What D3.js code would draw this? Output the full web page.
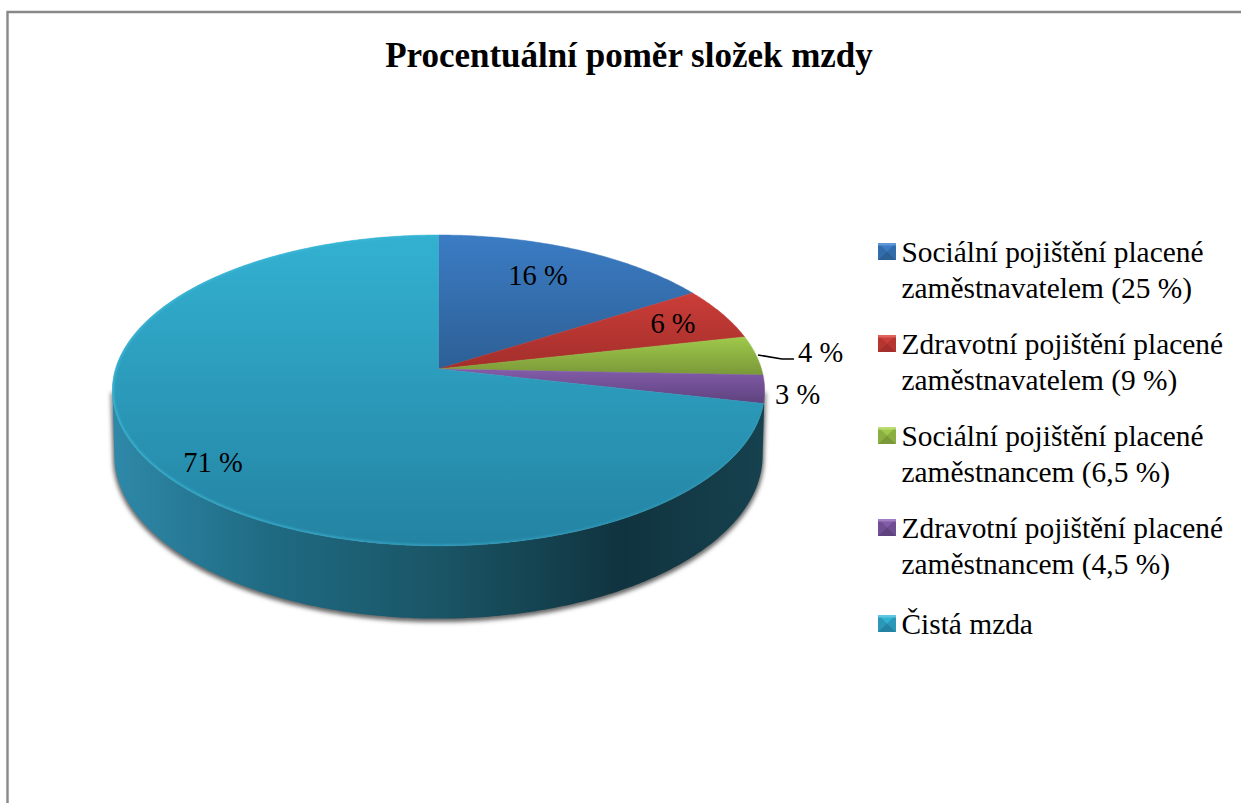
<!DOCTYPE html>
<html>
<head>
<meta charset="utf-8">
<script src="https://cdnjs.cloudflare.com/ajax/libs/d3/7.8.5/d3.min.js"></script>
<style>
  html, body { margin: 0; padding: 0; background: #fff; overflow: hidden; }
  text { font-family: "Liberation Serif", serif; fill: #000; }
</style>
</head>
<body>
<div id="chart"></div>
<script>
// data
var title = "Procentuální poměr složek mzdy";
var categories = [
  ["Sociální pojištění placené", "zaměstnavatelem (25 %)"],
  ["Zdravotní pojištění placené", "zaměstnavatelem (9 %)"],
  ["Sociální pojištění placené", "zaměstnancem (6,5 %)"],
  ["Zdravotní pojištění placené", "zaměstnancem (4,5 %)"],
  ["Čistá mzda"]
];
// slice sizes as measured on the rim, labels show them rounded
var values = [16, 5.5, 4.1, 2.9, 71.4];

// colours: [top of slice, bottom of slice, swatch light]
var palette = [
  ["#3b7cc4", "#2d5f95", "#5f97d6"],
  ["#cb3d38", "#a32e2b", "#e0625d"],
  ["#9fc94b", "#7a9838", "#bcdc72"],
  ["#835ca9", "#5e427e", "#a07fc2"],
  ["#33b1d1", "#2483a3", "#5fc6de"]
];

var width = 1241, height = 803;

// perspective of the pie: disc coords -> screen
var cx = 438.5, cy = 369, persp = 0.138;
function projector(rx, ry, y0) {
  return function (a) {
    var X = Math.sin(a), Y = Math.cos(a), w = 1 + persp * Y;
    return [cx + rx * X / w, y0 - ry * Y / w];
  };
}
var topRim = projector(323, 152.5, cy);
var bottomRim = projector(321, 160, 433);

function sample(a0, a1) {
  var n = Math.max(2, Math.ceil(Math.abs(a1 - a0) / 0.01));
  return d3.range(n + 1).map(function (i) { return a0 + (a1 - a0) * i / n; });
}
var line = d3.line();

var svg = d3.select("#chart").append("svg")
  .attr("width", width)
  .attr("height", height)
  .style("display", "block");
var defs = svg.append("defs");

// page frame
svg.append("path")
  .attr("d", line([[width, 12], [7.5, 12], [7.5, height]]))
  .attr("fill", "none")
  .attr("stroke", "#888")
  .attr("stroke-width", 2.4);

svg.append("text")
  .attr("x", 629)
  .attr("y", 67)
  .attr("text-anchor", "middle")
  .attr("font-weight", "bold")
  .attr("font-size", "35px")
  .text(title);

var arcs = d3.pie().sort(null).startAngle(0).endAngle(2 * Math.PI)(values);

// gradients
var sideGrad = defs.append("linearGradient")
  .attr("id", "side")
  .attr("gradientUnits", "userSpaceOnUse")
  .attr("x1", 115).attr("x2", 763).attr("y1", 0).attr("y2", 0);
[[0, "#2e88a8"], [0.24, "#1f6a82"], [0.5, "#1a5566"], [0.78, "#10343f"], [1, "#16414e"]].forEach(function (s) {
  sideGrad.append("stop").attr("offset", s[0]).attr("stop-color", s[1]);
});

var rimGrad = defs.append("linearGradient")
  .attr("id", "rim")
  .attr("gradientUnits", "userSpaceOnUse")
  .attr("x1", 115).attr("x2", 763).attr("y1", 0).attr("y2", 0);
rimGrad.append("stop").attr("offset", 0).attr("stop-color", "#3dbad9").attr("stop-opacity", 0.85);
rimGrad.append("stop").attr("offset", 0.55).attr("stop-color", "#3dbad9").attr("stop-opacity", 0.45);
rimGrad.append("stop").attr("offset", 1).attr("stop-color", "#3dbad9").attr("stop-opacity", 0.1);

arcs.forEach(function (d, i) {
  var pts = sample(d.startAngle, d.endAngle).map(topRim).concat([[cx, cy]]);
  var ext = d3.extent(pts, function (p) { return p[1]; });
  var g = defs.append("linearGradient")
    .attr("id", "slice" + i)
    .attr("gradientUnits", "userSpaceOnUse")
    .attr("x1", 0).attr("x2", 0).attr("y1", ext[0]).attr("y2", ext[1]);
  g.append("stop").attr("offset", 0).attr("stop-color", palette[i][0]);
  g.append("stop").attr("offset", 1).attr("stop-color", palette[i][1]);
  d.pts = pts;
});

defs.append("filter").attr("id", "soft")
  .attr("x", "-5%").attr("y", "-5%").attr("width", "110%").attr("height", "110%")
  .append("feGaussianBlur").attr("stdDeviation", 2);
defs.append("filter").attr("id", "softer")
  .attr("x", "-5%").attr("y", "-5%").attr("width", "110%").attr("height", "110%")
  .append("feGaussianBlur").attr("stdDeviation", 1);
defs.append("clipPath").attr("id", "disc")
  .append("path")
  .attr("d", line(sample(0, 2 * Math.PI).map(topRim)) + "Z");

// wall of the pie, front half only
var a0 = 98 * Math.PI / 180, a1 = 262 * Math.PI / 180;
var wall = sample(a0, a1).map(topRim)
  .concat(sample(a1, a0).map(bottomRim));
var wallPath = line(wall) + "Z";

svg.append("path")
  .attr("d", wallPath)
  .attr("fill", "#666")
  .attr("stroke", "#666")
  .attr("stroke-width", 3)
  .attr("transform", "translate(0,2)")
  .attr("filter", "url(#soft)");
svg.append("path")
  .attr("d", wallPath)
  .attr("fill", "url(#side)");

// top face
svg.selectAll("path.slice")
  .data(arcs)
  .enter().append("path")
  .attr("class", "slice")
  .attr("d", function (d) { return line(d.pts) + "Z"; })
  .attr("fill", function (d, i) { return "url(#slice" + i + ")"; })
  .attr("stroke", function (d, i) { return "url(#slice" + i + ")"; })
  .attr("stroke-width", 0.5);

// bevel highlight round the rim of the big slice
svg.append("g")
  .attr("clip-path", "url(#disc)")
  .append("path")
  .attr("d", line(sample(arcs[4].startAngle + 0.1, 2 * Math.PI).map(topRim)))
  .attr("fill", "none")
  .attr("stroke", "url(#rim)")
  .attr("stroke-width", 3)
  .attr("filter", "url(#softer)");

// data labels
var labelAnchors = [[538, 285, "middle"], [673, 333, "middle"], [798, 362, "start"], [775, 404, "start"], [213, 472, "middle"]];
svg.selectAll("text.value")
  .data(arcs)
  .enter().append("text")
  .attr("class", "value")
  .attr("x", function (d, i) { return labelAnchors[i][0]; })
  .attr("y", function (d, i) { return labelAnchors[i][1]; })
  .attr("text-anchor", function (d, i) { return labelAnchors[i][2]; })
  .attr("font-size", "28.5px")
  .text(function (d) { return Math.round(d.value) + " %"; });

// leader of the 4 % label
svg.append("path")
  .attr("d", line([[758, 355], [782, 359], [794, 359]]))
  .attr("fill", "none")
  .attr("stroke", "#000")
  .attr("stroke-width", 1.6);

// legend
var legendTops = [243, 335, 427, 519, 615];
var sw = 18, sh = 17, lx = 878;
var legend = svg.selectAll("g.legend")
  .data(categories)
  .enter().append("g")
  .attr("class", "legend")
  .attr("transform", function (d, i) { return "translate(" + lx + "," + legendTops[i] + ")"; });

legend.each(function (d, i) {
  var g = d3.select(this), c = palette[i];
  var mid = [sw / 2, sh / 2];
  var sideCol = d3.interpolateRgb(c[0], c[1])(0.55);
  g.append("rect").attr("width", sw).attr("height", sh).attr("fill", c[0]);
  g.append("path").attr("d", line([[0, 0], mid, [0, sh]]) + "Z").attr("fill", sideCol);
  g.append("path").attr("d", line([[sw, 0], mid, [sw, sh]]) + "Z").attr("fill", sideCol);
  g.append("path").attr("d", line([[0, sh], mid, [sw, sh]]) + "Z").attr("fill", c[1]);
  g.append("path").attr("d", line([[0, 0], [sw, 0], [sw, 2.5], [0, 2.5]]) + "Z").attr("fill", c[2]);
  g.selectAll("text")
    .data(d)
    .enter().append("text")
    .attr("x", 23.5)
    .attr("y", function (t, j) { return 19 + j * 36; })
    .attr("font-size", "29.4px")
    .text(function (t) { return t; });
});
</script>
</body>
</html>
